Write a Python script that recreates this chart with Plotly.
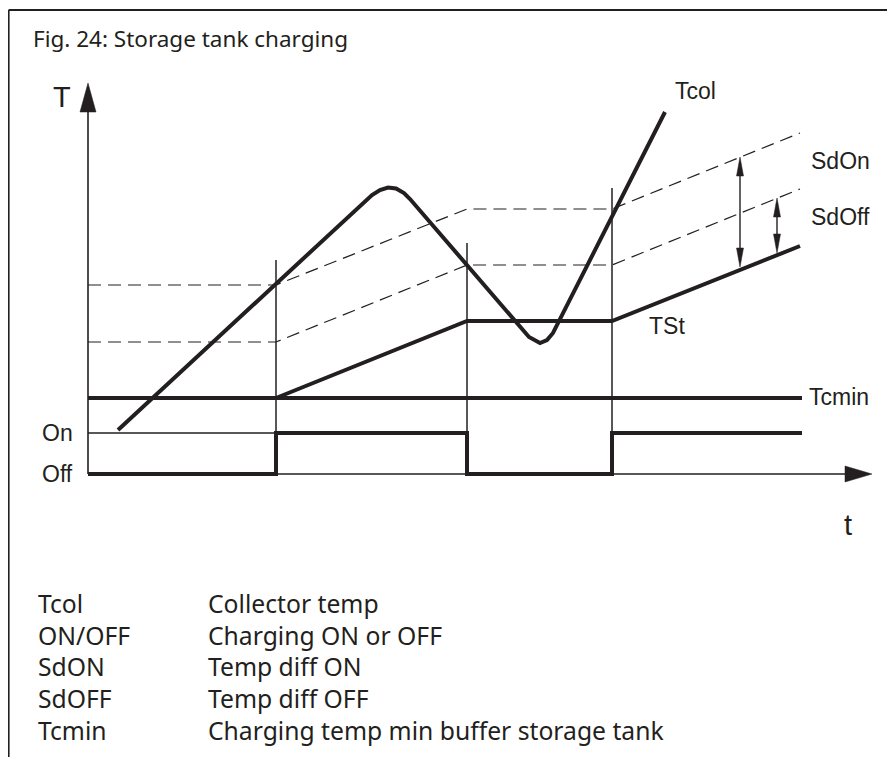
import plotly.graph_objects as go

# page renders the plot div with an 8px body margin; the figure is sized to fill
# the remaining window area
OFF = 8
W, H = 895 - OFF, 757 - OFF
INK = "#231f20"

# ---------------- data (schematic units: time t, temperature T) ----------------
# Collector temperature Tcol
t_tcol = [30, 284, 292, 300, 308, 316, 322, 379, 435, 441, 452, 459, 465, 577]
T_tcol = [44, 279, 284, 286.5, 285.5, 281, 275, 209, 144, 137, 131, 134, 141, 362]

# Storage tank temperature TSt
t_tst = [188, 379, 524, 712]
T_tst = [76, 153, 153, 228]

# Switch thresholds (dashed): SdOn and SdOff above TSt
t_sd = [0, 188, 379, 524, 712]
T_sdon = [189, 189, 265, 265, 341]
T_sdoff = [132, 132, 209, 209, 285]

# Minimum charging temperature
t_tcmin = [0, 714]
T_tcmin = [76, 76]

# Charging signal On/Off
t_sig = [0, 188, 188, 379, 379, 524, 524, 714]
sig = [0, 0, 41, 41, 0, 0, 41, 41]
T_ON, T_OFF = 41, 0

# switching instants (thin vertical markers) and their heights
t_switch = [188, 379, 524]
T_switch_top = [214, 231, 286]

# difference arrows
arr_t = [652, 689]
arr_lo = [207, 221]
arr_hi = [317, 276]

# axes extents
T_AXIS_TOP = 391
T_AXIS_LEN = 784

legend_keys = ["Tcol", "ON/OFF", "SdON", "SdOFF", "Tcmin"]
legend_desc = ["Collector temp", "Charging ON or OFF", "Temp diff ON",
               "Temp diff OFF", "Charging temp min buffer storage tank"]

title = "Fig. 24: Storage tank charging"

# ---------------- figure ----------------
fig = go.Figure()


def line(x, y, width, dash=None):
    fig.add_trace(go.Scatter(x=x, y=y, mode="lines",
                             line=dict(color=INK, width=width, dash=dash),
                             hoverinfo="skip", showlegend=False))


def tri(xs, ys):
    fig.add_trace(go.Scatter(x=xs + [xs[0]], y=ys + [ys[0]], mode="lines",
                             fill="toself", fillcolor=INK,
                             line=dict(color=INK, width=0.5),
                             hoverinfo="skip", showlegend=False))


# axes
line([0, 0], [0, T_AXIS_TOP - 29], 1.6)
tri([-8, 8, 0], [T_AXIS_TOP - 29, T_AXIS_TOP - 29, T_AXIS_TOP])
line([0, T_AXIS_LEN - 27], [0, 0], 1.6)
tri([T_AXIS_LEN - 27, T_AXIS_LEN - 27, T_AXIS_LEN], [8, -8, 0])

# On level thin reference line
line([0, t_sig[1]], [T_ON, T_ON], 1.4)

# vertical switching markers
for ts, top in zip(t_switch, T_switch_top):
    line([ts, ts], [0, top], 1.5)

# dashed thresholds
line(t_sd, T_sdon, 1.2, dash="13px,7px")
line(t_sd, T_sdoff, 1.2, dash="13px,7px")

# Tcmin, signal, TSt, Tcol
line(t_tcmin, T_tcmin, 4)
line(t_sig, sig, 4)
line(t_tst, T_tst, 4)
line(t_tcol, T_tcol, 4)

# double arrows
for at, lo, hi in zip(arr_t, arr_lo, arr_hi):
    line([at, at], [lo + 10, hi - 10], 1.4)
    tri([at - 3.5, at + 3.5, at], [hi - 19, hi - 19, hi])
    tri([at - 3.5, at + 3.5, at], [lo + 19, lo + 19, lo])

ann = []
lab = dict(family="Liberation Sans, Arial, sans-serif", size=23, color=INK)


def txt(x, y, s, xa="left", font=lab, xref="x", yref="y", ya="middle"):
    ann.append(dict(x=x, y=y, xref=xref, yref=yref, text=s, showarrow=False,
                    xanchor=xa, yanchor=ya, font=font))


def px(x):
    return (x - OFF) / W


def py(y):
    return 1 - (y - OFF) / H


txt(585, 383, "Tcol")
txt(721, 313, "SdOn")
txt(721, 257, "SdOff")
txt(559, 148, "TSt")
txt(719, 77, "Tcmin")
txt(-13, T_ON, "On", xa="right")
txt(-13, T_OFF, "Off", xa="right")
big = dict(family="Liberation Sans, Arial, sans-serif", size=29, color=INK)
txt(-26, 377, "T", xa="center", font=big)
txt(760, -51, "t", xa="center", font=big)

head = dict(family="Noto Sans, Open Sans, sans-serif", size=22.5, color=INK)
body = dict(family="Noto Sans, Open Sans, sans-serif", size=24.7, color=INK)
txt(px(31), py(38), title, font=head, xref="paper", yref="paper")
rows_y = [603, 635, 666, 698, 730]
for k, d, yy in zip(legend_keys, legend_desc, rows_y):
    txt(px(36), py(yy), k, font=body, xref="paper", yref="paper")
    txt(px(206), py(yy), d, font=body, xref="paper", yref="paper")

shapes = [
    dict(type="line", xref="paper", yref="paper", x0=px(8.6), x1=1.0,
         y0=py(10), y1=py(10), line=dict(color=INK, width=2)),
    dict(type="line", xref="paper", yref="paper", x0=px(8.6), x1=px(8.6),
         y0=py(10), y1=0, line=dict(color=INK, width=2)),
]

fig.update_layout(
    width=W, height=H, margin=dict(l=0, r=0, t=0, b=0),
    paper_bgcolor="white", plot_bgcolor="white",
    xaxis=dict(range=[-88 + OFF, W - 88 + OFF], visible=False, fixedrange=True),
    yaxis=dict(range=[474 - OFF - H, 474 - OFF], visible=False, fixedrange=True),
    annotations=ann, shapes=shapes, showlegend=False,
)

fig.write_html("out.html")
